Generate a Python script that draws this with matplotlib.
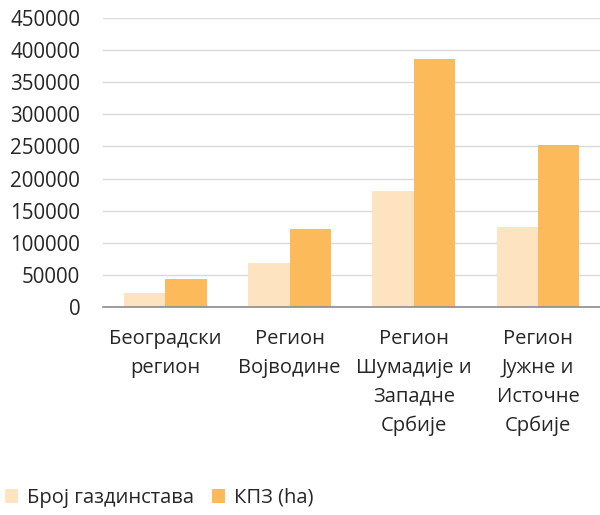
import numpy as np
import matplotlib.pyplot as plt

plt.rcParams['font.family'] = ['Open Sans', 'DejaVu Sans']

categories = ['Београдски\nрегион', 'Регион\nВојводине', 'Регион\nШумадије и\nЗападне\nСрбије',
              'Регион\nЈужне и\nИсточне\nСрбије']
households = [21300, 68000, 180000, 124000]
area_ha = [43000, 121000, 385500, 251500]
series_names = ['Број газдинстава', 'КПЗ (ha)']

fig = plt.figure(figsize=(6, 5.15), dpi=100)
ax = fig.add_axes([0.172, 0.404, 0.828, 0.561])

x = np.arange(len(categories))
w = 1 / 3
ax.bar(x - w / 2, households, w, color='#FEE3C1', label=series_names[0], zorder=3)
ax.bar(x + w / 2, area_ha, w, color='#FCBA5A', label=series_names[1], zorder=3)

ax.set_xlim(-0.5, len(categories) - 0.5)
ax.set_ylim(0, 450000)
ax.set_yticks(np.arange(0, 450001, 50000))
ax.set_yticklabels([str(v) for v in range(0, 450001, 50000)])
ax.grid(axis='y', color='#D9D9D9', linewidth=1, zorder=0)
for s in ['top', 'right', 'left']:
    ax.spines[s].set_visible(False)
ax.spines['bottom'].set_color('#8C8C8C')
ax.spines['bottom'].set_linewidth(1.2)
ax.spines['bottom'].set_zorder(4)
ax.tick_params(axis='both', length=0, colors='#262626')
ax.tick_params(axis='y', pad=16.5, labelsize=14.8)
ax.tick_params(axis='x', pad=16, labelsize=14.5)
ax.set_xticks(x)
ax.set_xticklabels(categories, linespacing=1.58)

fig.legend(loc='center left', bbox_to_anchor=(5 / 600, 1 - 498 / 515), ncol=2, frameon=False,
           fontsize=14.5, handlelength=0.65, handleheight=0.65, handletextpad=0.45,
           columnspacing=0.9, borderpad=0, borderaxespad=0, labelcolor='#262626')

fig.savefig('out.png', dpi=100)
